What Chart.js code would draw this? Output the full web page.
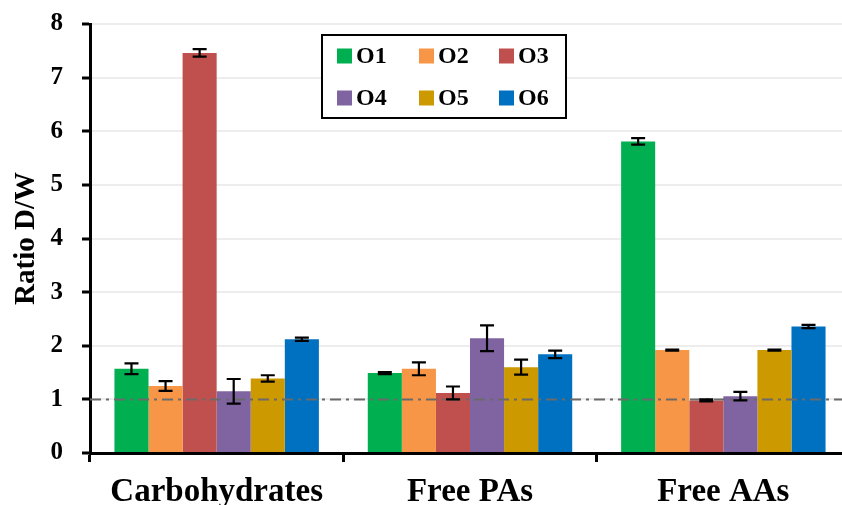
<!DOCTYPE html>
<html>
<head>
<meta charset="utf-8">
<script src="https://cdn.jsdelivr.net/npm/chart.js@4.4.1/dist/chart.umd.min.js"></script>
<style>
  html, body { margin: 0; padding: 0; overflow: hidden; background: #fff; }
  #wrap { width: 850px; height: 505px; }
</style>
</head>
<body>
<div id="wrap"><canvas id="ratio_chart"></canvas></div>
<script>
/*------------------------------*/
/*      RATIO D/W - O1..O6      */
/*------------------------------*/
var categories = ['Carbohydrates', 'Free PAs', 'Free AAs']
var seriesNames = ['O1', 'O2', 'O3', 'O4', 'O5', 'O6']
var yTicks = [0, 1, 2, 3, 4, 5, 6, 7, 8]

var o1 = [1.57, 1.49, 5.81]
var o2 = [1.25, 1.57, 1.92]
var o3 = [7.46, 1.12, 0.98]
var o4 = [1.15, 2.14, 1.06]
var o5 = [1.39, 1.60, 1.92]
var o6 = [2.12, 1.84, 2.36]

var o1Err = [0.10, 0.02, 0.06]
var o2Err = [0.09, 0.12, 0.01]
var o3Err = [0.07, 0.12, 0.02]
var o4Err = [0.23, 0.24, 0.08]
var o5Err = [0.06, 0.14, 0.01]
var o6Err = [0.03, 0.07, 0.03]

var refLevel = 1

var colors = ['#00B050', '#F79646', '#C0504D', '#8064A2', '#CC9900', '#0070C0']
var serif = '"Liberation Serif", "Times New Roman", serif'

var values = [o1, o2, o3, o4, o5, o6]
var errors = [o1Err, o2Err, o3Err, o4Err, o5Err, o6Err]

var datasets = seriesNames.map(function (name, i) {
    return {
        label: name,
        data: values[i],
        errors: errors[i],
        backgroundColor: colors[i],
        borderWidth: 0,
        categoryPercentage: 0.807,
        barPercentage: 1.0
    }
})

// dash-dot line at ratio = 1, across the plot
var refLinePlugin = {
    id: 'refLine',
    afterDatasetsDraw: function (chart) {
        var ctx = chart.ctx, area = chart.chartArea
        var y = chart.scales.y.getPixelForValue(refLevel)
        ctx.save()
        ctx.strokeStyle = '#6a6a6a'
        ctx.lineWidth = 2
        ctx.setLineDash([11, 5, 3, 5])
        ctx.beginPath()
        ctx.moveTo(area.left, y)
        ctx.lineTo(area.right, y)
        ctx.stroke()
        ctx.restore()
    }
}

// error bars from each dataset's errors array
var errorBarPlugin = {
    id: 'errorBars',
    afterDatasetsDraw: function (chart) {
        var ctx = chart.ctx, yScale = chart.scales.y
        ctx.save()
        ctx.strokeStyle = '#000'
        ctx.lineWidth = 2.2
        chart.data.datasets.forEach(function (ds, i) {
            chart.getDatasetMeta(i).data.forEach(function (bar, j) {
                var v = ds.data[j], e = ds.errors[j]
                var yTop = yScale.getPixelForValue(v + e)
                var yBot = yScale.getPixelForValue(v - e)
                ctx.beginPath()
                ctx.moveTo(bar.x, yTop); ctx.lineTo(bar.x, yBot)
                ctx.moveTo(bar.x - 7, yTop); ctx.lineTo(bar.x + 7, yTop)
                ctx.moveTo(bar.x - 7, yBot); ctx.lineTo(bar.x + 7, yBot)
                ctx.stroke()
            })
        })
        ctx.restore()
    }
}

// boxed legend, 3 columns x 2 rows
var boxLegendPlugin = {
    id: 'boxLegend',
    afterDraw: function (chart) {
        var ctx = chart.ctx
        var box = { x: 322, y: 35, w: 244, h: 83 }
        var colX = [337, 419, 499]
        var rowY = [56, 98]
        ctx.save()
        ctx.fillStyle = '#fff'
        ctx.fillRect(box.x, box.y, box.w, box.h)
        ctx.strokeStyle = '#000'
        ctx.lineWidth = 2
        ctx.strokeRect(box.x, box.y, box.w, box.h)
        ctx.font = 'bold 24px ' + serif
        ctx.textBaseline = 'middle'
        chart.data.datasets.forEach(function (ds, i) {
            var cx = colX[i % 3], cy = rowY[Math.floor(i / 3)]
            ctx.fillStyle = ds.backgroundColor
            ctx.fillRect(cx, cy - 7.5, 15, 15)
            ctx.fillStyle = '#000'
            ctx.fillText(ds.label, cx + 19, cy + 1)
        })
        ctx.restore()
    }
}

var config_ratio = {
    type: 'bar',
    data: { labels: categories, datasets: datasets },
    options: {
        responsive: true,
        maintainAspectRatio: false,
        animation: false,
        layout: { padding: { top: 24, left: 0, right: 0, bottom: 0 } },
        plugins: {
            legend: { display: false },
            tooltip: { enabled: false }
        },
        scales: {
            x: {
                offset: true,
                grid: {
                    display: true,
                    drawOnChartArea: false,
                    offset: true,
                    tickLength: 9,
                    tickColor: '#000',
                    tickWidth: 3
                },
                border: { color: '#000', width: 3 },
                ticks: {
                    color: '#000',
                    padding: 11,
                    font: { family: serif, size: 33, weight: 'bold' }
                },
                afterFit: function (scale) { scale.height = 52 }
            },
            y: {
                min: 0,
                max: 8,
                afterBuildTicks: function (scale) {
                    scale.ticks = yTicks.map(function (v) { return { value: v } })
                },
                grid: {
                    color: '#ededed',
                    lineWidth: 2,
                    tickColor: '#000',
                    tickLength: 8,
                    tickWidth: 3
                },
                border: { color: '#000', width: 3 },
                ticks: {
                    color: '#000',
                    padding: 19,
                    font: { family: serif, size: 25, weight: 'bold' }
                },
                title: {
                    display: true,
                    text: 'Ratio D/W',
                    color: '#000',
                    padding: { top: 9, bottom: 0 },
                    font: { family: serif, size: 29, weight: 'bold' }
                },
                afterFit: function (scale) {
                    scale.width = 90
                    scale.paddingTop = 0
                    scale.paddingBottom = 0
                }
            }
        }
    },
    plugins: [refLinePlugin, errorBarPlugin, boxLegendPlugin]
}

var ratio_chart = new Chart(document.getElementById('ratio_chart').getContext('2d'), config_ratio)
/*------------------------------*/
/*------------------------------*/
</script>
</body>
</html>
